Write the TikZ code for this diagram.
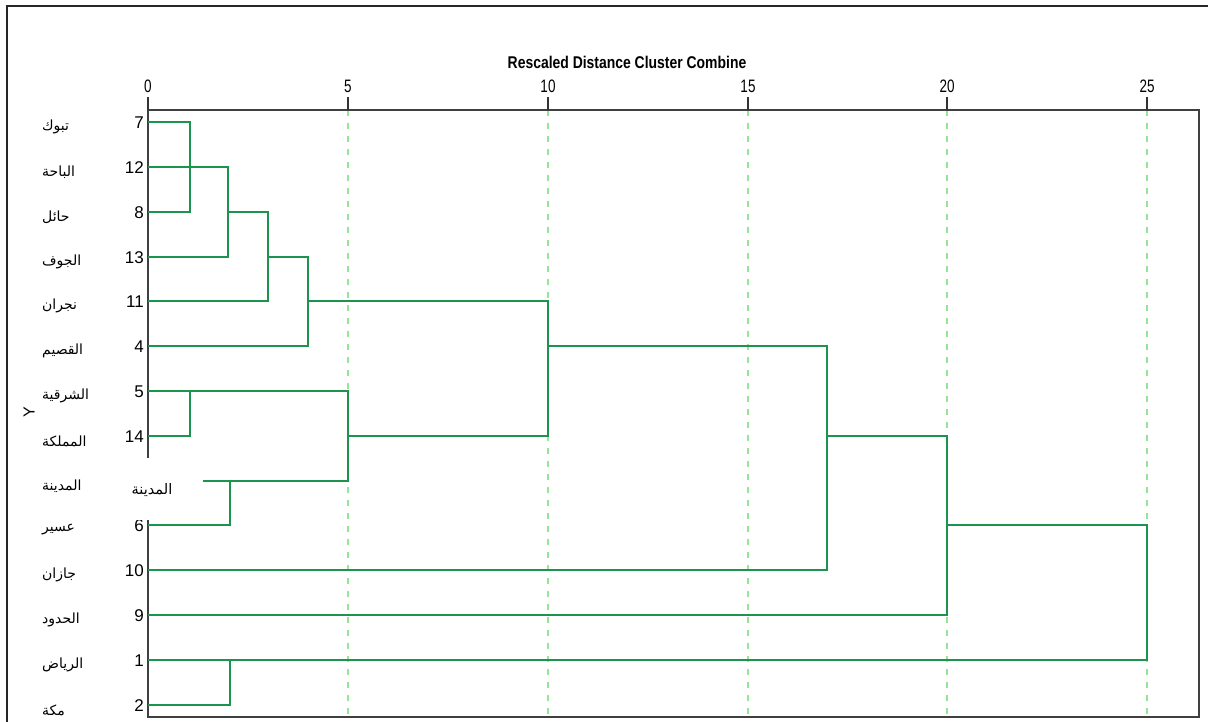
\documentclass[tikz,border=0pt]{standalone}
\usepackage{fontspec}
\setmainfont{Liberation Sans}
\newfontfamily\arabicfont[Script=Arabic]{DejaVu Sans}
\TeXXeTstate=1
\definecolor{dendro}{RGB}{28,148,78}
\definecolor{gridgreen}{RGB}{150,228,150}
\newcommand{\arlabel}[1]{{\arabicfont\beginR #1\endR}}
\begin{document}
\begin{tikzpicture}[x=1pt,y=1pt,
	link/.style={dendro, line width=2.2pt, line join=miter},
	gridline/.style={gridgreen, line width=1.2pt, dash pattern=on 6pt off 7pt},
	num/.style={anchor=east, font=\fontsize{17}{17}\selectfont},
	city/.style={anchor=west, font=\fontsize{14}{14}\selectfont},
	ticklab/.style={font=\fontsize{18}{18}\selectfont, transform shape, xscale=0.75}]
			\tikzstyle{every node}+=[inner sep=0pt]
			\useasboundingbox (0,0) rectangle (1208,-722);
			\fill [white] (0,0) rectangle (1208,-722);
			\draw [black!85, line width=2pt] (7,-722) -- (7,-6) -- (1208,-6);
			\node [font=\bfseries\fontsize{17}{17}\selectfont, transform shape, xscale=0.82] (title) at (627,-62) {Rescaled Distance Cluster Combine};
			\draw [gridline] (348,-110) -- (348,-717);
			\draw [gridline] (548,-110) -- (548,-717);
			\draw [gridline] (748,-110) -- (748,-717);
			\draw [gridline] (947,-110) -- (947,-717);
			\draw [gridline] (1147,-110) -- (1147,-717);
			\draw [black!75, line width=1.5pt] (148,-110) rectangle (1199,-717);
			\draw [black!80, line width=1.5pt] (148,-97) -- (148,-110);
			\draw [black!80, line width=1.5pt] (348,-97) -- (348,-110);
			\draw [black!80, line width=1.5pt] (548,-97) -- (548,-110);
			\draw [black!80, line width=1.5pt] (748,-97) -- (748,-110);
			\draw [black!80, line width=1.5pt] (947,-97) -- (947,-110);
			\draw [black!80, line width=1.5pt] (1147,-97) -- (1147,-110);
			\node [ticklab] (t0) at (148,-86) {0};
			\node [ticklab] (t5) at (348,-86) {5};
			\node [ticklab] (t10) at (548,-86) {10};
			\node [ticklab] (t15) at (748,-86) {15};
			\node [ticklab] (t20) at (947,-86) {20};
			\node [ticklab] (t25) at (1147,-86) {25};
			\node [rotate=90, font=\fontsize{16}{16}\selectfont] (ylab) at (29,-412) {Y};
			\node [num] (n7) at (144,-123) {7};
			\coordinate (r7) at (148,-122);
			\node [num] (n12) at (144,-168) {12};
			\coordinate (r12) at (148,-167);
			\node [num] (n8) at (144,-213) {8};
			\coordinate (r8) at (148,-212);
			\node [num] (n13) at (144,-258) {13};
			\coordinate (r13) at (148,-257);
			\node [num] (n11) at (144,-302) {11};
			\coordinate (r11) at (148,-301);
			\node [num] (n4) at (144,-347) {4};
			\coordinate (r4) at (148,-346);
			\node [num] (n5) at (144,-392) {5};
			\coordinate (r5) at (148,-391);
			\node [num] (n14) at (144,-437) {14};
			\coordinate (r14) at (148,-436);
			\coordinate (r3) at (148,-481);
			\node [num] (n6) at (144,-526) {6};
			\coordinate (r6) at (148,-525);
			\node [num] (n10) at (144,-571) {10};
			\coordinate (r10) at (148,-570);
			\node [num] (n9) at (144,-616) {9};
			\coordinate (r9) at (148,-615);
			\node [num] (n1) at (144,-661) {1};
			\coordinate (r1) at (148,-660);
			\node [num] (n2) at (144,-706) {2};
			\coordinate (r2) at (148,-705);
			\node [city] (c7) at (42,-127) {\arlabel{تبوك}};
			\node [city] (c12) at (42,-172) {\arlabel{الباحة}};
			\node [city] (c8) at (42,-217) {\arlabel{حائل}};
			\node [city] (c13) at (42,-262) {\arlabel{الجوف}};
			\node [city] (c11) at (42,-306) {\arlabel{نجران}};
			\node [city] (c4) at (42,-351) {\arlabel{القصيم}};
			\node [city] (c5) at (42,-396) {\arlabel{الشرقية}};
			\node [city] (c14) at (42,-441) {\arlabel{المملكة}};
			\node [city] (c3) at (42,-486) {\arlabel{المدينة}};
			\node [city] (c6) at (42,-530) {\arlabel{عسير}};
			\node [city] (c10) at (42,-575) {\arlabel{جازان}};
			\node [city] (c9) at (42,-620) {\arlabel{الحدود}};
			\node [city] (c1) at (42,-665) {\arlabel{الرياض}};
			\node [city] (c2) at (42,-710) {\arlabel{مكة}};
			\coordinate (m1) at (190,-167);
			\coordinate (m2) at (228,-212);
			\coordinate (m3) at (268,-257);
			\coordinate (m4) at (308,-301);
			\coordinate (m5) at (190,-391);
			\coordinate (m6) at (230,-481);
			\coordinate (m7) at (348,-436);
			\coordinate (m8) at (548,-346);
			\coordinate (m9) at (827,-436);
			\coordinate (m10) at (947,-525);
			\coordinate (m11) at (230,-660);
			\coordinate (m12) at (1147,-592);
			\draw [link] (r7) -| (m1) |- (r8);
			\draw [link] (r12) -| (m2) |- (r13);
			\draw [link] (m2) -| (m3) |- (r11);
			\draw [link] (m3) -| (m4) |- (r4);
			\draw [link] (r14) -| (m5) |- (r5);
			\draw [link] (r3) -| (m6) |- (r6);
			\draw [link] (m5) -| (m7) |- (m6);
			\draw [link] (m4) -| (m8) |- (m7);
			\draw [link] (m8) -| (m9) |- (r10);
			\draw [link] (m9) -| (m10) |- (r9);
			\draw [link] (r1) -| (m11) |- (r2);
			\draw [link] (m10) -| (m12) |- (m11);
			\fill [white] (96,-458) rectangle (203,-520);
			\node [font=\fontsize{14.5}{14.5}\selectfont] (c3b) at (152,-490) {\arlabel{المدينة}};
		\end{tikzpicture}
\end{document}
